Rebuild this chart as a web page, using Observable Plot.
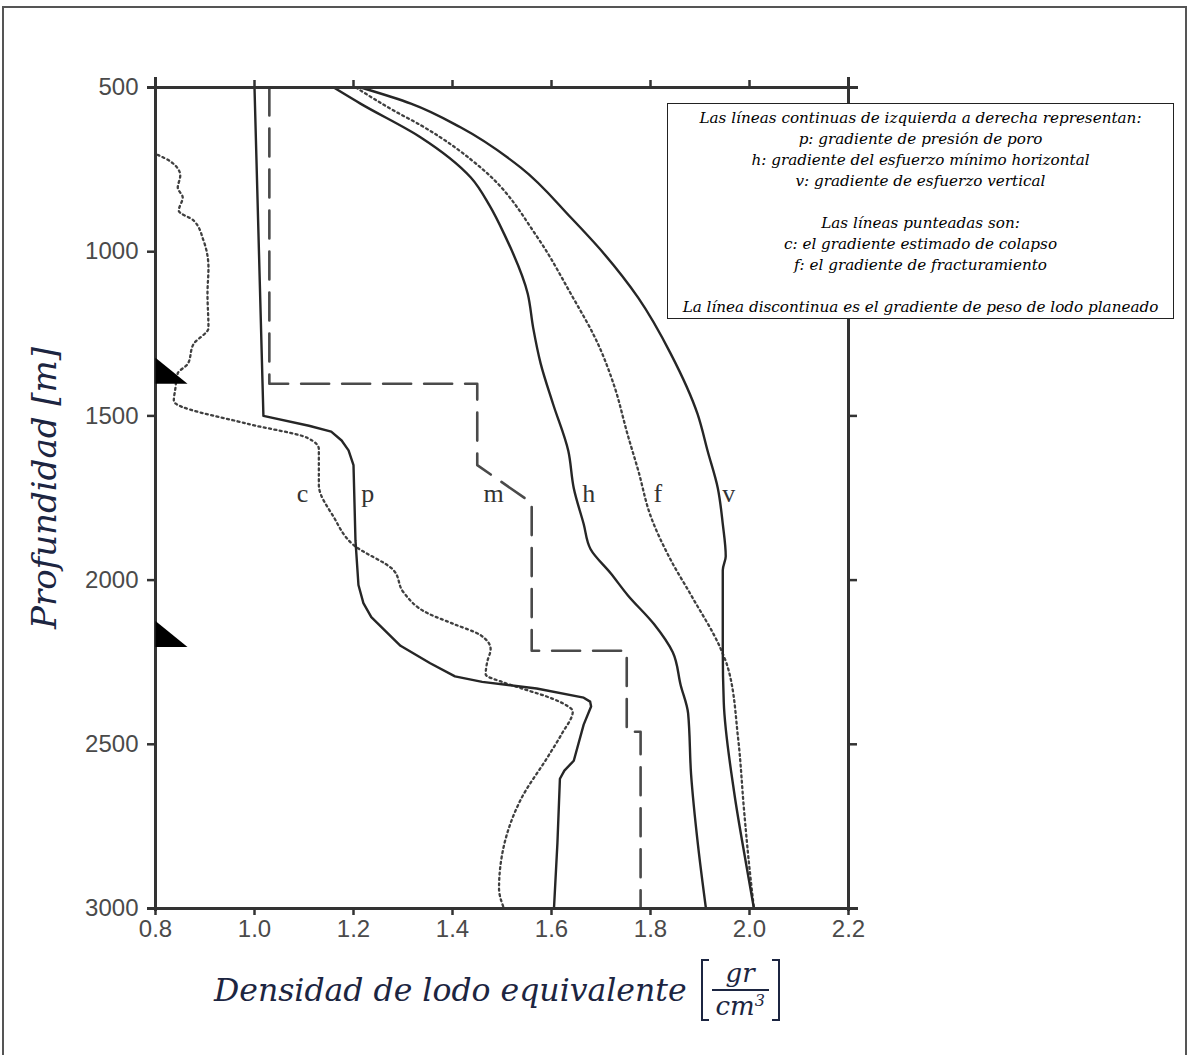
<!DOCTYPE html>
<html>
<head>
<meta charset="utf-8">
<script src="https://cdn.jsdelivr.net/npm/d3@7"></script>
<script src="https://cdn.jsdelivr.net/npm/@observablehq/plot@0.6"></script>
<style>
  body { margin: 0; background: #fff; }
  #page { position: relative; width: 1189px; height: 1055px; overflow: hidden; background: #fff; }
  #frame { position: absolute; left: 2px; top: 6px; width: 1185px; height: 1100px; border: 2px solid #555; box-sizing: border-box; }
  #chart { position: absolute; left: 0; top: 0; }
  #legend { position: absolute; left: 667px; top: 103px; width: 507px; height: 216px; box-sizing: border-box;
    border: 1.5px solid #222; background: #fff; text-align: center; font-family: "DejaVu Serif", serif;
    font-style: italic; font-size: 15.2px; line-height: 21px; padding-top: 4px; color: #000; }
  #legend div { height: 21px; white-space: nowrap; }
  #xtitle { position: absolute; left: 214px; top: 956px; height: 68px; display: flex; align-items: center;
    font-family: "DejaVu Serif", serif; font-style: italic; font-size: 31.5px; color: #1c2541; white-space: nowrap; }
  #xtitle .unit { display: flex; align-items: center; margin-left: 14px; }
  #xtitle .br { width: 8px; height: 62px; border-top: 2.5px solid #1c2541; border-bottom: 2.5px solid #1c2541; box-sizing: border-box; }
  #xtitle .br.l { border-left: 2.5px solid #1c2541; }
  #xtitle .br.r { border-right: 2.5px solid #1c2541; }
  #xtitle .fr { display: flex; flex-direction: column; align-items: center; margin: 0 3px; }
  #xtitle .num { border-bottom: 2px solid #1c2541; padding: 0 14px 1px; line-height: 29px; height: 29px; font-size: 26px; }
  #xtitle .den { line-height: 29px; height: 29px; padding: 1px 2px 0; font-size: 26px; }
  #xtitle sup { font-size: 16px; vertical-align: 9px; line-height: 0; }
  #ytitle { position: absolute; left: -106px; top: 466px; width: 300px; height: 44px; line-height: 44px; text-align: center;
    transform: rotate(-90deg); font-family: "DejaVu Serif", serif; font-style: italic; font-size: 34px; color: #1c2541; white-space: nowrap; }
</style>
</head>
<body>
<div id="page">
  <div id="frame"></div>
  <div id="chart"></div>
  <div id="legend"></div>
  <div id="ytitle">Profundidad [m]</div>
  <div id="xtitle"><span>Densidad de lodo equivalente</span>
    <span class="unit"><span class="br l"></span><span class="fr"><span class="num">gr</span><span class="den">cm<sup>3</sup></span></span><span class="br r"></span></span>
  </div>
</div>
<script>
// ---- data: [depth (m), equivalent mud density (g/cm3)] ----
const poreP = [[500,1.00],[1000,1.009],[1500,1.018],[1530,1.11],[1548,1.155],[1575,1.176],[1605,1.19],[1650,1.2],[1880,1.204],[2015,1.21],[2070,1.22],[2113,1.236],[2200,1.295],[2253,1.355],[2293,1.405],[2310,1.46],[2330,1.57],[2358,1.665],[2370,1.678],[2385,1.68],[2440,1.665],[2550,1.645],[2580,1.626],[2605,1.617],[2800,1.612],[3000,1.605]];
const minHoriz = [[500,1.16],[549,1.214],[652,1.336],[774,1.437],[860,1.475],[945,1.504],[1128,1.552],[1232,1.563],[1340,1.578],[1463,1.603],[1607,1.634],[1720,1.645],[1829,1.665],[1906,1.679],[1980,1.72],[2046,1.754],[2134,1.807],[2220,1.845],[2320,1.861],[2406,1.876],[2592,1.882],[2808,1.896],[3000,1.912]];
const vertical = [[500,1.215],[549,1.316],[622,1.417],[744,1.538],[896,1.639],[1006,1.706],[1140,1.775],[1311,1.841],[1494,1.895],[1610,1.916],[1720,1.936],[1829,1.946],[1927,1.952],[1970,1.946],[2210,1.946],[2372,1.948],[2646,1.969],[2863,1.993],[3000,2.009]];
const collapse = [[705,0.804],[725,0.83],[768,0.85],[805,0.845],[835,0.855],[875,0.847],[905,0.877],[966,0.897],[1049,0.907],[1128,0.905],[1232,0.907],[1281,0.877],[1342,0.865],[1370,0.845],[1418,0.84],[1454,0.837],[1524,0.986],[1567,1.107],[1601,1.13],[1710,1.13],[1808,1.16],[1893,1.2],[1970,1.281],[2037,1.301],[2101,1.35],[2134,1.403],[2168,1.457],[2210,1.477],[2250,1.47],[2287,1.467],[2310,1.5],[2329,1.538],[2360,1.6],[2384,1.633],[2399,1.643],[2470,1.62],[2537,1.593],[2668,1.538],[2808,1.504],[2939,1.494],[3000,1.504]];
const fracture = [[500,1.205],[570,1.281],[615,1.336],[753,1.464],[957,1.572],[1128,1.639],[1281,1.694],[1410,1.727],[1558,1.754],[1665,1.775],[1808,1.801],[1939,1.841],[2046,1.882],[2210,1.942],[2265,1.956],[2482,1.977],[2701,1.989],[2863,1.999],[3000,2.009]];
const mudPlan = [[500,1.03],[1402,1.03],[1402,1.45],[1650,1.45],[1765,1.56],[2215,1.56],[2215,1.752],[2462,1.752],[2462,1.78],[3000,1.78]];

const curveLabels = ["c","p","m","h","f","v"];
const labelX = [1.097,1.229,1.483,1.675,1.815,1.958];
const labelDepth = 1738;

const casingShoes = [1402, 2204];

const xTicks = [0.8,1.0,1.2,1.4,1.6,1.8,2.0,2.2];
const yTicks = [500,1000,1500,2000,2500,3000];

const legendLines = [
  "Las líneas continuas de izquierda a derecha representan:",
  "p: gradiente de presión de poro",
  "h: gradiente del esfuerzo mínimo horizontal",
  "v: gradiente de esfuerzo vertical",
  "",
  "Las líneas punteadas son:",
  "c: el gradiente estimado de colapso",
  "f: el gradiente de fracturamiento",
  "",
  "La línea discontinua es el gradiente de peso de lodo planeado"
];

// ---- build ----
const rows = arr => arr.map(([d, v]) => ({depth: d, dens: v}));
const labelRows = curveLabels.map((t, i) => ({t, x: labelX[i], y: labelDepth}));

const solid = {x: "dens", y: "depth", stroke: "#262626", strokeWidth: 2.4, curve: "linear"};
const dotted = {x: "dens", y: "depth", stroke: "#404040", strokeWidth: 2.3, strokeDasharray: "2,3.4", curve: "monotone-y"};

const shoeSymbol = {
  draw(ctx) { ctx.moveTo(0, -26); ctx.lineTo(0, 0); ctx.lineTo(32, 0); ctx.closePath(); }
};

const axisStyle = {stroke: "#333", strokeWidth: 2.5, fill: "#4a4a4a", fontSize: 24, label: null};

const chart = Plot.plot({
  width: 1189,
  height: 960,
  marginLeft: 155,
  marginRight: 341,
  marginTop: 87,
  marginBottom: 52,
  style: {fontFamily: "'Liberation Sans', Arial, sans-serif", background: "transparent", overflow: "visible"},
  x: {domain: [0.8, 2.2], axis: null, label: null},
  y: {domain: [500, 3000], reverse: true, axis: null, label: null},
  marks: [
    Plot.line(rows(collapse), dotted),
    Plot.line(rows(fracture), dotted),
    Plot.line(rows(mudPlan), {x: "dens", y: "depth", stroke: "#4a4a4a", strokeWidth: 2.6, strokeDasharray: "28,13"}),
    Plot.line(rows(poreP), solid),
    Plot.line(rows(minHoriz), {...solid, curve: "monotone-y"}),
    Plot.line(rows(vertical), {...solid, curve: "monotone-y"}),
    Plot.ruleY([500, 3000], {stroke: "#333", strokeWidth: 3, insetLeft: -8, insetRight: -10}),
    Plot.ruleX([0.8, 2.2], {stroke: "#333", strokeWidth: 3, insetTop: -10, insetBottom: -3}),
    Plot.axisX(xTicks, {...axisStyle, anchor: "bottom", tickSize: 7, tickPadding: 4, tickFormat: d3.format(".1f")}),
    Plot.axisX(xTicks, {...axisStyle, anchor: "top", tickSize: 8, tickFormat: () => ""}),
    Plot.axisY(yTicks, {...axisStyle, anchor: "left", tickSize: 8, tickPadding: 9, tickFormat: d => String(d)}),
    Plot.axisY(yTicks, {...axisStyle, anchor: "right", tickSize: 8, tickFormat: () => ""}),
    Plot.dot(casingShoes, {x: 0.8, y: d => d, symbol: shoeSymbol, fill: "#000", stroke: "none"}),
    Plot.text(labelRows, {x: "x", y: "y", text: "t", fontFamily: "'Liberation Serif', 'Times New Roman', serif", fontSize: 26, fill: "#333"})
  ]
});
document.getElementById("chart").appendChild(chart);

const legend = document.getElementById("legend");
for (const line of legendLines) {
  const d = document.createElement("div");
  d.textContent = line;
  legend.appendChild(d);
}
</script>
</body>
</html>
